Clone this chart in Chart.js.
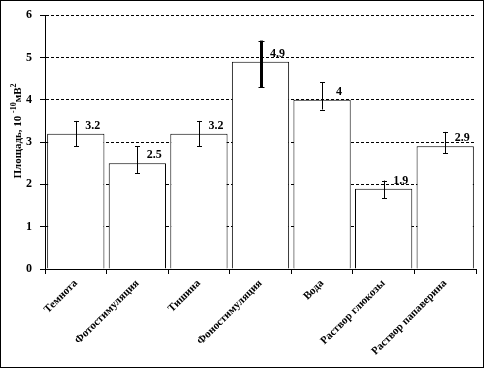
<!DOCTYPE html>
<html lang="ru">
<head>
  <meta charset="UTF-8" />
  <title>Площадь</title>
  <script src="https://cdn.jsdelivr.net/npm/chart.js"></script>
  <style>
    body {
      margin: 0;
      background: white;
    }
    .wrap {
      width: 486px;
      height: 369px;
      position: relative;
    }
  </style>
</head>
<body>
  <div class="wrap">
    <canvas id="areaChart"></canvas>
  </div>

  <script>
    // data
    const categories = ["Темнота", "Фотостимуляция", "Тишина", "Фоностимуляция", "Вода", "Раствор глюкозы", "Раствор папаверина"];
    const values = [3.2, 2.5, 3.2, 4.9, 4, 1.9, 2.9];
    const errPlus = [0.3, 0.4, 0.3, 0.5, 0.42, 0.19, 0.34];
    const errMinus = [0.3, 0.23, 0.3, 0.6, 0.23, 0.23, 0.16];
    // axis title split into normal / raised parts: "Площадь, 10 ⁻¹⁰мВ²"
    const yTitleParts = [["Площадь, 10 ", false], ["-10", true], ["мВ", false], ["2", true]];

    const serif = "'Liberation Serif', 'DejaVu Serif', serif";
    const thickErr = [false, false, false, true, false, false, false];

    const extras = {
      id: "extras",
      afterDatasetsDraw(chart) {
        const ctx = chart.ctx;
        const meta = chart.getDatasetMeta(0);
        const y = chart.scales.y;
        ctx.save();
        ctx.strokeStyle = "black";
        ctx.fillStyle = "black";
        meta.data.forEach((bar, i) => {
          const x = Math.round(bar.x) + 0.5;
          const top = y.getPixelForValue(values[i] + errPlus[i]);
          const bot = y.getPixelForValue(values[i] - errMinus[i]);
          const cap = thickErr[i] ? 3 : 2.5;
          ctx.lineWidth = thickErr[i] ? 3 : 1;
          ctx.beginPath();
          ctx.moveTo(x, top);
          ctx.lineTo(x, bot);
          ctx.stroke();
          ctx.lineWidth = 1;
          ctx.beginPath();
          ctx.moveTo(x - cap, Math.round(top) + 0.5);
          ctx.lineTo(x + cap, Math.round(top) + 0.5);
          ctx.moveTo(x - cap, Math.round(bot) + 0.5);
          ctx.lineTo(x + cap, Math.round(bot) + 0.5);
          ctx.stroke();

          // value label
          ctx.font = "bold 12px " + serif;
          ctx.textAlign = "center";
          ctx.textBaseline = "bottom";
          ctx.fillText(String(values[i]), bar.x + 17, bar.y - 2);
        });

        // axis title with raised exponents
        const big = "bold 11px " + serif;
        const small = "bold 8px " + serif;
        let total = 0;
        yTitleParts.forEach(([t, sup]) => {
          ctx.font = sup ? small : big;
          total += ctx.measureText(t).width;
        });
        ctx.translate(21, 131);
        ctx.rotate(-Math.PI / 2);
        ctx.textAlign = "left";
        ctx.textBaseline = "alphabetic";
        let pos = -total / 2;
        yTitleParts.forEach(([t, sup]) => {
          ctx.font = sup ? small : big;
          ctx.fillText(t, pos, sup ? -5 : 0);
          pos += ctx.measureText(t).width;
        });
        ctx.restore();

        // outer frame
        ctx.save();
        ctx.strokeStyle = "black";
        ctx.lineWidth = 1;
        ctx.strokeRect(0.5, 0.5, 483, 367);
        ctx.restore();
      }
    };

    new Chart(document.getElementById("areaChart"), {
      type: "bar",
      data: {
        labels: categories,
        datasets: [
          {
            data: values,
            backgroundColor: "white",
            borderColor: "black",
            borderWidth: 1,
            barPercentage: 0.93,
            categoryPercentage: 1,
          },
        ],
      },
      options: {
        responsive: true,
        maintainAspectRatio: false,
        animation: false,
        layout: {
          padding: { top: 11, right: 10, bottom: 0, left: 0 },
        },
        plugins: {
          legend: { display: false },
          tooltip: { enabled: false },
        },
        scales: {
          x: {
            afterFit(scale) {
              scale.height = 100;
            },
            grid: {
              offset: true,
              drawOnChartArea: false,
              tickLength: 5,
              color: "black",
            },
            border: { display: true, color: "black" },
            ticks: {
              color: "black",
              font: { family: serif, size: 11, weight: "bold" },
              minRotation: 45,
              maxRotation: 45,
              padding: 3,
              autoSkip: false,
            },
          },
          y: {
            min: 0,
            max: 6,
            afterFit(scale) {
              scale.width = 45;
            },
            grid: {
              color: "black",
              tickBorderDash: [],
              tickLength: 5,
            },
            border: { display: true, color: "black", dash: [3, 2] },
            ticks: {
              stepSize: 1,
              color: "black",
              padding: 8,
              font: { family: serif, size: 12, weight: "bold" },
            },
          },
        },
      },
      plugins: [extras],
    });
  </script>
</body>
</html>
